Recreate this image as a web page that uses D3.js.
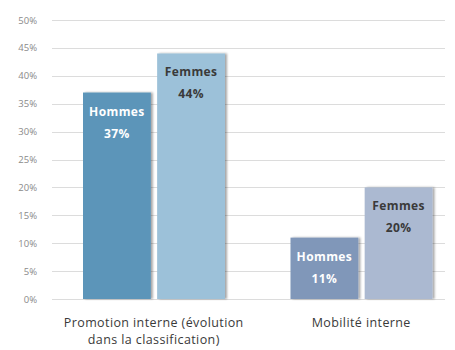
<!DOCTYPE html>
<html><head><meta charset="utf-8">
<script src="https://cdn.jsdelivr.net/npm/d3@7"></script>
<style>body{margin:0;background:#fff}svg{display:block}</style>
</head><body>
<svg id="c" width="455" height="350"></svg>
<script>
const categories = [["Promotion interne (évolution","dans la classification)"],["Mobilité interne"]];
const catKeys = ["promo","mob"];
const series = ["Hommes","Femmes"];
const hommes = [37, 11];
const femmes = [44, 20];
const yTicks = [0,5,10,15,20,25,30,35,40,45,50];
const colors = {promo:["#5c95b9","#9cc1d9"], mob:["#8097b9","#abb9d1"]};
const labelColors = ["#ffffff","#3a3a3a"];

const svg = d3.select("#c");
const defs = svg.append("defs");
const f = defs.append("filter").attr("id","sh").attr("x","-10%").attr("y","-10%").attr("width","130%").attr("height","130%");
f.append("feDropShadow").attr("dx",2).attr("dy",0).attr("stdDeviation",1.3).attr("flood-color","#000").attr("flood-opacity",0.35);

const y = d3.scaleLinear().domain([0,50]).range([299,20]);
const x0 = d3.scaleBand().domain(catKeys).range([50,465]);
const x1 = d3.scaleBand().domain(series).range([33,175]).paddingInner(0.085);

// grid
svg.append("g").selectAll("line").data(yTicks).join("line")
  .attr("x1",52).attr("x2",445).attr("y1",d=>Math.round(y(d))+0.5).attr("y2",d=>Math.round(y(d))+0.5)
  .attr("stroke","#dcdcdc").attr("stroke-width",1);
svg.append("g").selectAll("text").data(yTicks).join("text")
  .attr("x",37).attr("y",d=>y(d)+3.5).attr("text-anchor","end")
  .attr("font-family","'Open Sans', sans-serif").attr("font-size",9.5).attr("fill","#8a8a8a")
  .text(d=>d+"%");

const data = [];
catKeys.forEach((c,i)=>{
  data.push({cat:c, s:"Hommes", v:hommes[i], col:colors[c][0], lc:labelColors[0]});
  data.push({cat:c, s:"Femmes", v:femmes[i], col:colors[c][1], lc:labelColors[1]});
});

const bars = svg.append("g");
bars.selectAll("rect").data(data).join("rect")
  .attr("x",d=>x0(d.cat)+x1(d.s)).attr("width",x1.bandwidth())
  .attr("y",d=>y(d.v)).attr("height",d=>y(0)-y(d.v))
  .attr("fill",d=>d.col).attr("filter","url(#sh)");

const lab = svg.append("g").attr("font-family","'Open Sans', sans-serif").attr("font-weight","bold").attr("font-size",12).attr("letter-spacing",0.4).attr("text-anchor","middle");
lab.selectAll("text.n").data(data).join("text").attr("class","n")
  .attr("x",d=>x0(d.cat)+x1(d.s)+x1.bandwidth()/2).attr("y",d=>y(d.v)+23)
  .attr("fill",d=>d.lc).text(d=>d.s);
lab.selectAll("text.v").data(data).join("text").attr("class","v")
  .attr("x",d=>x0(d.cat)+x1(d.s)+x1.bandwidth()/2).attr("y",d=>y(d.v)+45)
  .attr("fill",d=>d.lc).text(d=>d.v+"%");

// category labels
const cl = svg.append("g").attr("font-family","'Open Sans', sans-serif").attr("font-size",12.5).attr("letter-spacing",0.4).attr("fill","#3a3a3a").attr("text-anchor","middle");
catKeys.forEach((c,i)=>{
  categories[i].forEach((t,j)=>{
    cl.append("text").attr("x",x0(c)+x0.bandwidth()/2).attr("y",327+j*17).text(t);
  });
});
</script>
</body></html>
